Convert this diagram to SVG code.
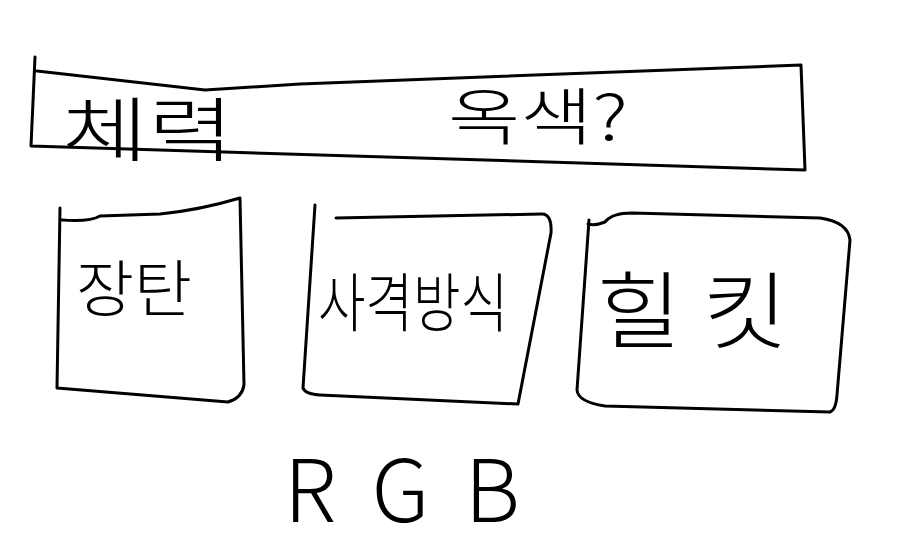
<svg xmlns="http://www.w3.org/2000/svg" width="898" height="551" viewBox="0 0 898 551">
<style>
.b{fill:none;stroke:#000;stroke-width:3;stroke-linecap:round;stroke-linejoin:round}
.t{font-family:"Noto Sans CJK KR","Noto Sans",sans-serif;fill:#000;font-weight:300}
</style>
<rect width="898" height="551" fill="#fff"/>
<g id="top">
<path class="b" d="M35,57 L31,146 L805,170 L801,65 L300,84 L205,90 L37,71"/>
<text class="t" x="62" y="156" font-size="70" textLength="172" lengthAdjust="spacingAndGlyphs">체력</text>
<text class="t" x="448" y="140" font-size="62" textLength="180" lengthAdjust="spacingAndGlyphs">옥색?</text>
</g>
<g id="ammo">
<path class="b" d="M60,208 L57,388 L228,402 Q242,398 244,385 L240,198 Q200,210 160,214 L100,216 Q90,222 62,220"/>
<text class="t" x="76" y="312" font-size="62" textLength="116" lengthAdjust="spacingAndGlyphs">장탄</text>
</g>
<g id="fire">
<path class="b" d="M315,205 L303,388 Q305,394 320,395 L518,404 L551,233 Q552,214 542,214 L336,218"/>
<text class="t" x="318" y="326" font-size="64" textLength="190" lengthAdjust="spacingAndGlyphs">사격방식</text>
</g>
<g id="heal">
<path class="b" d="M589,220 L577,390 Q578,402 605,406 L830,412 Q836,410 837,395 L850,240 Q848,222 820,218 L632,213 Q612,213 605,222 Q595,226 588,224"/>
<text class="t" x="596" y="342" font-size="84" textLength="192" lengthAdjust="spacingAndGlyphs">힐 킷</text>
</g>
<g id="rgb">
<text class="t" x="284" y="522" font-size="86" textLength="236" lengthAdjust="spacing">RGB</text>
</g>
</svg>
